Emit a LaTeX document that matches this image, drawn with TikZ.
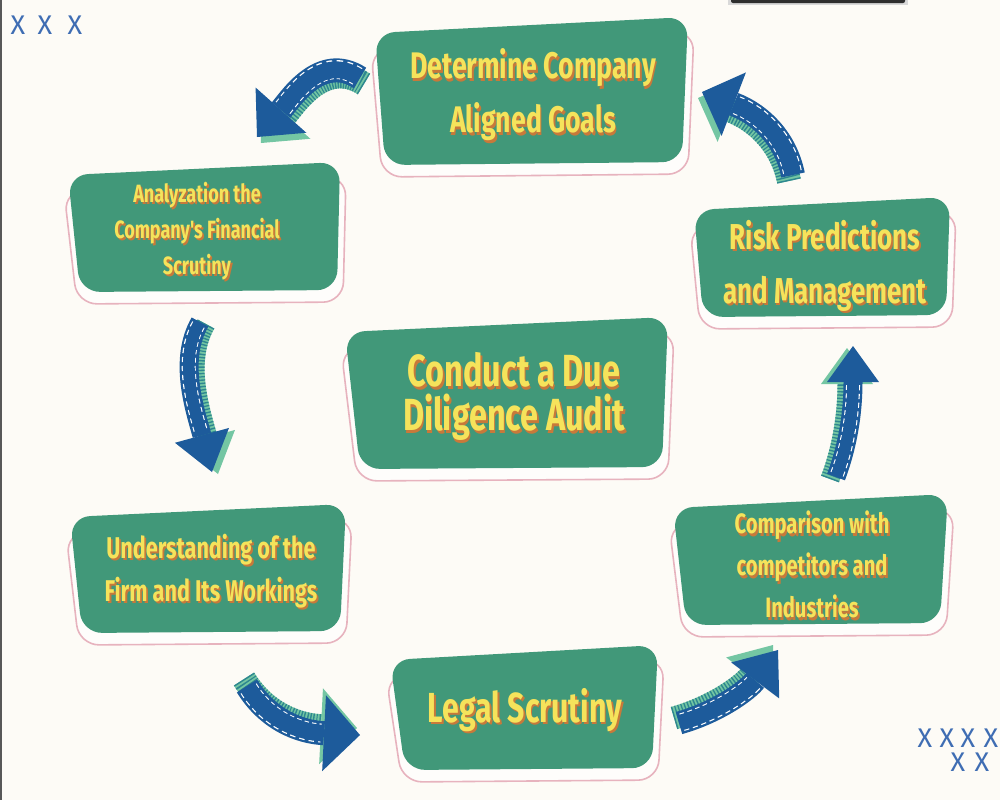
\documentclass[tikz,border=0pt]{standalone}
\usepackage{fontspec}
\usetikzlibrary{arrows.meta,calc}
\newfontfamily\bxfont[FakeStretch=0.72]{Fira Sans}
\newfontfamily\xfont{Fira Sans}
\definecolor{bgc}{HTML}{FDFBF6}
\definecolor{boxg}{HTML}{419879}
\definecolor{pinkc}{HTML}{E7B3BE}
\definecolor{txty}{HTML}{F5E35B}
\definecolor{shadc}{HTML}{C8793A}
\definecolor{arrb}{HTML}{1D5B9B}
\definecolor{sideg}{HTML}{74C6A3}
\definecolor{stripe}{HTML}{2E8790}
\definecolor{xblue}{HTML}{3F6DB3}
\definecolor{darkbar}{HTML}{2E2E2E}
\newcommand\sh[1]{\makebox[0pt][l]{\hspace{0.9pt}\raisebox{-1.3pt}{\textcolor{shadc}{#1}}}#1}
% box: tl tr br bl
\newcommand\dbox[4]{%
  \draw[pinkline] ($#1!0.5!#2+(0,15)$) -- ($#2+(6,14)$) -- ($#3+(6,12)$) -- ($#4+(-3,12)$) -- ($#1+(-4,16)$) -- cycle;
  \fill[boxg, rounded corners=10pt] ($#1!0.5!#2$) -- #2 -- #3 -- #4 -- #1 -- cycle;
}
% arrow: start, c1, c2, end, shift, width, head length, head width
\newcommand\farrow[8]{%
  \draw[line width=#6, sideg, -{Triangle[length=#7,width=#8,line width=0pt]}]
    ($(#1)+#5$) .. controls ($#2+#5$) and ($#3+#5$) .. ($(#4)+#5$);
  \draw[line width=#6, stripe, dash pattern=on 0.7pt off 1pt, shorten >=#7]
    ($(#1)+#5$) .. controls ($#2+#5$) and ($#3+#5$) .. ($(#4)+#5$);
  \draw[line width=#6, arrb, -{Triangle[length=#7,width=#8,line width=0pt]}]
    (#1) .. controls #2 and #3 .. (#4);
  \draw[line width=#6-2.5pt, white, dash pattern=on 2.5pt off 1.8pt, shorten >=#7+1.5pt, shorten <=1.5pt]
    (#1) .. controls #2 and #3 .. (#4);
  \draw[line width=#6-3.6pt, arrb, shorten >=#7+1pt, shorten <=1pt]
    (#1) .. controls #2 and #3 .. (#4);
}
\tikzset{
  pinkline/.style={draw=pinkc, line width=0.8pt, fill=white!55!bgc, rounded corners=10pt},
  txt/.style={text=txty, align=center, inner sep=0pt},
  xmark/.style={text=xblue, font=\xfont\fontsize{13.5}{13.5}\selectfont, inner sep=0pt},
}
\begin{document}
\begin{tikzpicture}[x=0.5pt,y=-0.5pt]
\useasboundingbox (0,0) rectangle (1000,800);
\fill[bgc] (0,0) rectangle (1000,800);
\fill[darkbar!80!white] (0,0) rectangle (2,800);
\fill[black!15] (728,0) rectangle (908,5);
\fill[darkbar, rounded corners=1pt] (731,-3) rectangle (905,3);

% boxes
\dbox{(375,33)}{(688,17)}{(682,162)}{(385,165)}
\dbox{(68,175)}{(340,162)}{(337,290)}{(80,292)}
\dbox{(70,517)}{(346,504)}{(340,631)}{(82,633)}
\dbox{(390,660)}{(658,645)}{(652,768)}{(405,770)}
\dbox{(673,508)}{(948,494)}{(940,623)}{(686,625)}
\dbox{(694,210)}{(950,197)}{(946,315)}{(703,317)}
\dbox{(345,332)}{(668,317)}{(662,467)}{(360,469)}

% texts
\node[txt, font=\bxfont\bfseries\fontsize{18.5}{27}\selectfont] (goals) at (533,96) {\sh{Determine Company}\\\sh{Aligned Goals}};
\node[txt, font=\bxfont\bfseries\fontsize{12.5}{18}\selectfont] (fin) at (197,232) {\sh{Analyzation the}\\\sh{Company's Financial}\\\sh{Scrutiny}};
\node[txt, font=\bxfont\bfseries\fontsize{15}{21.5}\selectfont] (firm) at (211,572) {\sh{Understanding of the}\\\sh{Firm and Its Workings}};
\node[txt, font=\bxfont\bfseries\fontsize{21}{24}\selectfont] (legal) at (525,711) {\sh{Legal Scrutiny}};
\node[txt, font=\bxfont\bfseries\fontsize{14}{21}\selectfont] (comp) at (812,566) {\sh{Comparison with}\\\sh{competitors and}\\\sh{Industries}};
\node[txt, font=\bxfont\bfseries\fontsize{18}{27}\selectfont] (risk) at (825,267) {\sh{Risk Predictions}\\\sh{and Management}};
\node[txt, font=\bxfont\bfseries\fontsize{22.5}{22}\selectfont] (audit) at (514,398) {\sh{Conduct a Due}\\\sh{Diligence Audit}};

% arrows
\coordinate (a1s) at (360,78);  \coordinate (a1e) at (257,137);
\coordinate (a2s) at (200,322); \coordinate (a2e) at (212,472);
\coordinate (a3s) at (247,686); \coordinate (a3e) at (360,735);
\coordinate (a4s) at (679,723); \coordinate (a4e) at (778,650);
\coordinate (a5s) at (836,477); \coordinate (a5e) at (853,346);
\coordinate (a6s) at (793,175); \coordinate (a6e) at (702,92);
\farrow{a1s}{(320,52)}{(290,100)}{a1e}{(4,6)}{12pt}{18pt}{34pt}
\farrow{a2s}{(178,360)}{(195,410)}{a2e}{(6,2)}{9.5pt}{19pt}{28pt}
\farrow{a3s}{(268,720)}{(300,732)}{a3e}{(-3,-7)}{12pt}{18pt}{38pt}
\farrow{a4s}{(718,712)}{(748,690)}{a4e}{(-5,-5)}{11.5pt}{19pt}{30pt}
\farrow{a5s}{(850,440)}{(853,405)}{a5e}{(-6,2)}{9.5pt}{18pt}{26pt}
\farrow{a6s}{(786,140)}{(762,115)}{a6e}{(-4,6)}{12pt}{17pt}{34pt}

% x marks
\node[xmark] (x1) at (18,25) {X};
\node[xmark] (x2) at (45,25) {X};
\node[xmark] (x3) at (75,25) {X};
\node[xmark] (x4) at (925,738) {X};
\node[xmark] (x5) at (947,738) {X};
\node[xmark] (x6) at (968,738) {X};
\node[xmark] (x7) at (991,738) {X};
\node[xmark] (x8) at (958,762) {X};
\node[xmark] (x9) at (982,762) {X};
\end{tikzpicture}
\end{document}
